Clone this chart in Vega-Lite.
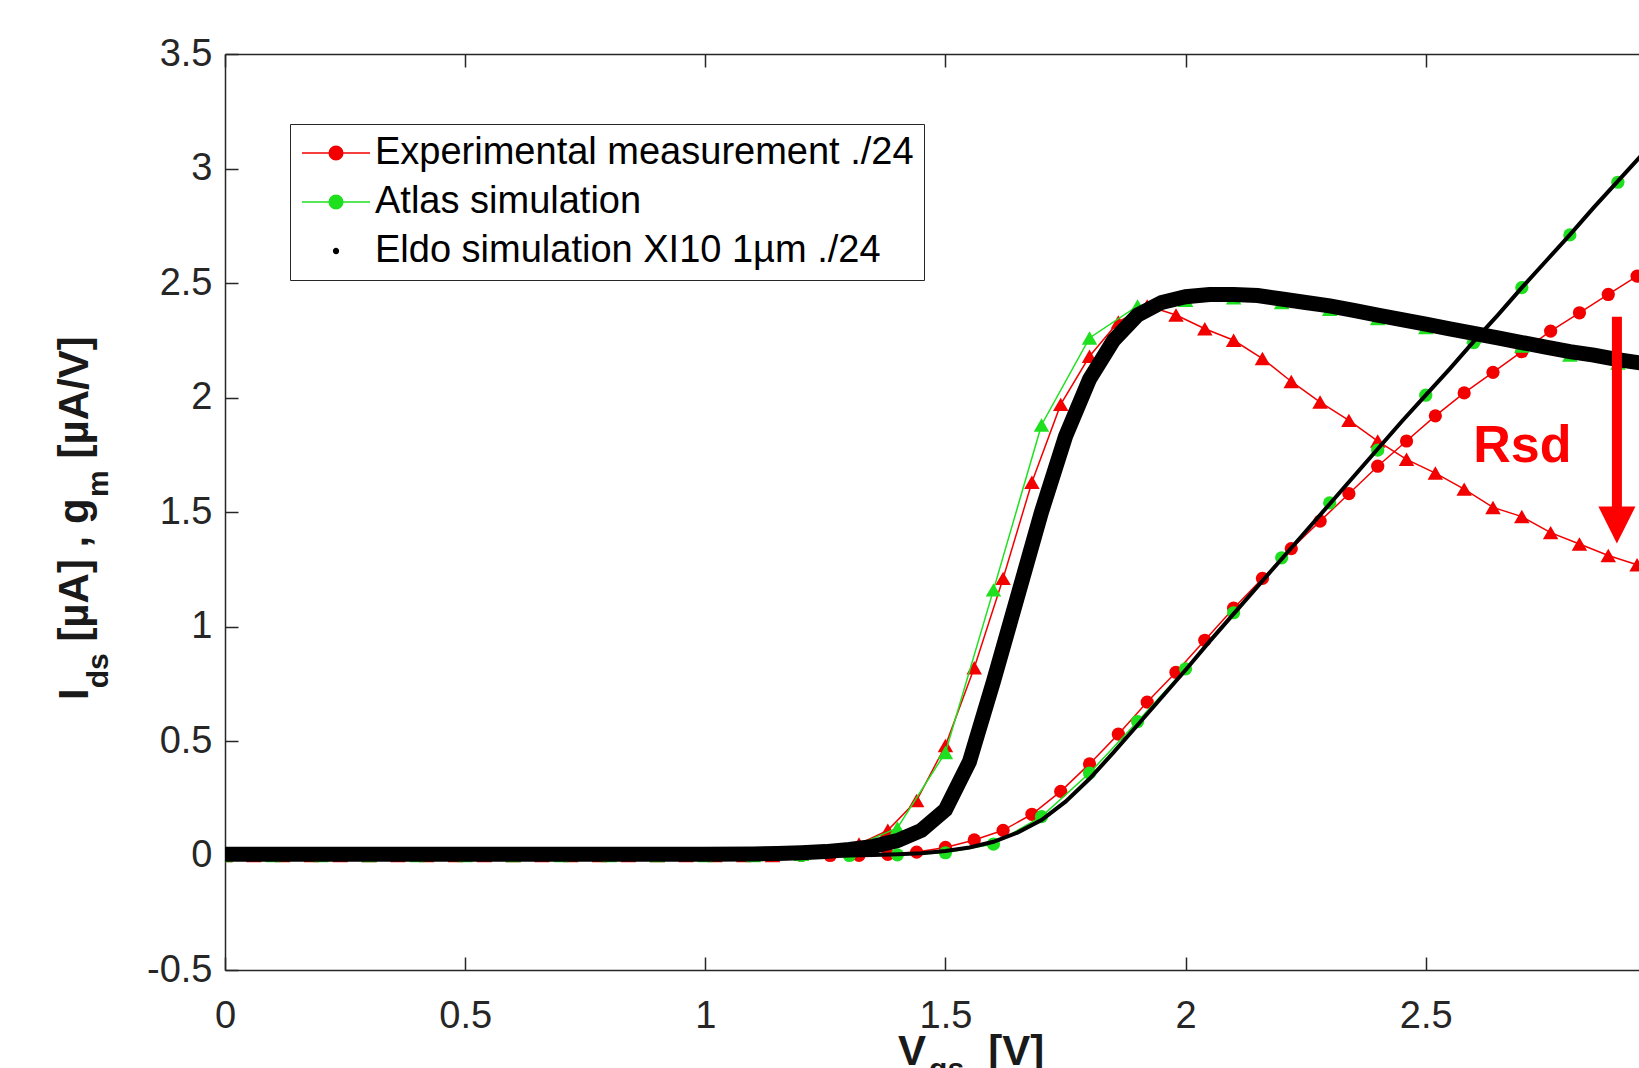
{
  "$schema": "https://vega.github.io/schema/vega-lite/v6.json",
  "width": 1414,
  "height": 916,
  "autosize": {"type": "none"},
  "padding": {"left": 225, "top": 54, "right": 0, "bottom": 98},
  "background": "#ffffff",
  "config": {
    "view": {"stroke": null},
    "axis": {
      "domainColor": "#262626", "domainWidth": 1.5,
      "tickColor": "#262626", "tickWidth": 1.5, "tickSize": -13,
      "labelColor": "#262626", "labelFont": "Liberation Sans", "labelFontSize": 38,
      "grid": false
    }
  },
  "datasets": {
    "curves": [
      {"series":"exp","kind":"ids","vgs":0,"value":0},{"series":"exp","kind":"ids","vgs":0.06,"value":0},{"series":"exp","kind":"ids","vgs":0.12,"value":0},{"series":"exp","kind":"ids","vgs":0.18,"value":0},{"series":"exp","kind":"ids","vgs":0.24,"value":0},{"series":"exp","kind":"ids","vgs":0.3,"value":0},{"series":"exp","kind":"ids","vgs":0.36,"value":0},{"series":"exp","kind":"ids","vgs":0.42,"value":0},{"series":"exp","kind":"ids","vgs":0.48,"value":0},{"series":"exp","kind":"ids","vgs":0.54,"value":0},{"series":"exp","kind":"ids","vgs":0.6,"value":0},{"series":"exp","kind":"ids","vgs":0.66,"value":0},{"series":"exp","kind":"ids","vgs":0.72,"value":0},{"series":"exp","kind":"ids","vgs":0.78,"value":0},{"series":"exp","kind":"ids","vgs":0.84,"value":0},{"series":"exp","kind":"ids","vgs":0.9,"value":0},{"series":"exp","kind":"ids","vgs":0.96,"value":0},{"series":"exp","kind":"ids","vgs":1.02,"value":0},{"series":"exp","kind":"ids","vgs":1.08,"value":0},{"series":"exp","kind":"ids","vgs":1.14,"value":0},{"series":"exp","kind":"ids","vgs":1.2,"value":0},{"series":"exp","kind":"ids","vgs":1.26,"value":0},{"series":"exp","kind":"ids","vgs":1.32,"value":0.001},{"series":"exp","kind":"ids","vgs":1.38,"value":0.005},{"series":"exp","kind":"ids","vgs":1.44,"value":0.015},{"series":"exp","kind":"ids","vgs":1.5,"value":0.035},{"series":"exp","kind":"ids","vgs":1.56,"value":0.068},{"series":"exp","kind":"ids","vgs":1.62,"value":0.11},{"series":"exp","kind":"ids","vgs":1.68,"value":0.18},{"series":"exp","kind":"ids","vgs":1.74,"value":0.28},{"series":"exp","kind":"ids","vgs":1.8,"value":0.4},{"series":"exp","kind":"ids","vgs":1.86,"value":0.53},{"series":"exp","kind":"ids","vgs":1.92,"value":0.67},{"series":"exp","kind":"ids","vgs":1.98,"value":0.8},{"series":"exp","kind":"ids","vgs":2.04,"value":0.94},{"series":"exp","kind":"ids","vgs":2.1,"value":1.08},{"series":"exp","kind":"ids","vgs":2.16,"value":1.21},{"series":"exp","kind":"ids","vgs":2.22,"value":1.34},{"series":"exp","kind":"ids","vgs":2.28,"value":1.46},{"series":"exp","kind":"ids","vgs":2.34,"value":1.58},{"series":"exp","kind":"ids","vgs":2.4,"value":1.7},{"series":"exp","kind":"ids","vgs":2.46,"value":1.81},{"series":"exp","kind":"ids","vgs":2.52,"value":1.92},{"series":"exp","kind":"ids","vgs":2.58,"value":2.02},{"series":"exp","kind":"ids","vgs":2.64,"value":2.11},{"series":"exp","kind":"ids","vgs":2.7,"value":2.2},{"series":"exp","kind":"ids","vgs":2.76,"value":2.29},{"series":"exp","kind":"ids","vgs":2.82,"value":2.37},{"series":"exp","kind":"ids","vgs":2.88,"value":2.45},{"series":"exp","kind":"ids","vgs":2.94,"value":2.53},
      {"series":"exp","kind":"gm","vgs":0,"value":0},{"series":"exp","kind":"gm","vgs":0.06,"value":0},{"series":"exp","kind":"gm","vgs":0.12,"value":0},{"series":"exp","kind":"gm","vgs":0.18,"value":0},{"series":"exp","kind":"gm","vgs":0.24,"value":0},{"series":"exp","kind":"gm","vgs":0.3,"value":0},{"series":"exp","kind":"gm","vgs":0.36,"value":0},{"series":"exp","kind":"gm","vgs":0.42,"value":0},{"series":"exp","kind":"gm","vgs":0.48,"value":0},{"series":"exp","kind":"gm","vgs":0.54,"value":0},{"series":"exp","kind":"gm","vgs":0.6,"value":0},{"series":"exp","kind":"gm","vgs":0.66,"value":0},{"series":"exp","kind":"gm","vgs":0.72,"value":0},{"series":"exp","kind":"gm","vgs":0.78,"value":0},{"series":"exp","kind":"gm","vgs":0.84,"value":0},{"series":"exp","kind":"gm","vgs":0.9,"value":0},{"series":"exp","kind":"gm","vgs":0.96,"value":0},{"series":"exp","kind":"gm","vgs":1.02,"value":0},{"series":"exp","kind":"gm","vgs":1.08,"value":0},{"series":"exp","kind":"gm","vgs":1.14,"value":0},{"series":"exp","kind":"gm","vgs":1.2,"value":0.005},{"series":"exp","kind":"gm","vgs":1.26,"value":0.02},{"series":"exp","kind":"gm","vgs":1.32,"value":0.05},{"series":"exp","kind":"gm","vgs":1.38,"value":0.11},{"series":"exp","kind":"gm","vgs":1.44,"value":0.24},{"series":"exp","kind":"gm","vgs":1.5,"value":0.48},{"series":"exp","kind":"gm","vgs":1.56,"value":0.82},{"series":"exp","kind":"gm","vgs":1.62,"value":1.21},{"series":"exp","kind":"gm","vgs":1.68,"value":1.63},{"series":"exp","kind":"gm","vgs":1.74,"value":1.97},{"series":"exp","kind":"gm","vgs":1.8,"value":2.18},{"series":"exp","kind":"gm","vgs":1.86,"value":2.33},{"series":"exp","kind":"gm","vgs":1.92,"value":2.4},{"series":"exp","kind":"gm","vgs":1.98,"value":2.36},{"series":"exp","kind":"gm","vgs":2.04,"value":2.3},{"series":"exp","kind":"gm","vgs":2.1,"value":2.25},{"series":"exp","kind":"gm","vgs":2.16,"value":2.17},{"series":"exp","kind":"gm","vgs":2.22,"value":2.07},{"series":"exp","kind":"gm","vgs":2.28,"value":1.98},{"series":"exp","kind":"gm","vgs":2.34,"value":1.9},{"series":"exp","kind":"gm","vgs":2.4,"value":1.81},{"series":"exp","kind":"gm","vgs":2.46,"value":1.73},{"series":"exp","kind":"gm","vgs":2.52,"value":1.67},{"series":"exp","kind":"gm","vgs":2.58,"value":1.6},{"series":"exp","kind":"gm","vgs":2.64,"value":1.52},{"series":"exp","kind":"gm","vgs":2.7,"value":1.48},{"series":"exp","kind":"gm","vgs":2.76,"value":1.41},{"series":"exp","kind":"gm","vgs":2.82,"value":1.36},{"series":"exp","kind":"gm","vgs":2.88,"value":1.31},{"series":"exp","kind":"gm","vgs":2.94,"value":1.27},
      {"series":"atlas","kind":"ids","vgs":0,"value":0},{"series":"atlas","kind":"ids","vgs":0.1,"value":0},{"series":"atlas","kind":"ids","vgs":0.2,"value":0},{"series":"atlas","kind":"ids","vgs":0.3,"value":0},{"series":"atlas","kind":"ids","vgs":0.4,"value":0},{"series":"atlas","kind":"ids","vgs":0.5,"value":0},{"series":"atlas","kind":"ids","vgs":0.6,"value":0},{"series":"atlas","kind":"ids","vgs":0.7,"value":0},{"series":"atlas","kind":"ids","vgs":0.8,"value":0},{"series":"atlas","kind":"ids","vgs":0.9,"value":0},{"series":"atlas","kind":"ids","vgs":1,"value":0},{"series":"atlas","kind":"ids","vgs":1.1,"value":0},{"series":"atlas","kind":"ids","vgs":1.2,"value":0},{"series":"atlas","kind":"ids","vgs":1.3,"value":0},{"series":"atlas","kind":"ids","vgs":1.4,"value":0.003},{"series":"atlas","kind":"ids","vgs":1.5,"value":0.012},{"series":"atlas","kind":"ids","vgs":1.6,"value":0.05},{"series":"atlas","kind":"ids","vgs":1.7,"value":0.17},{"series":"atlas","kind":"ids","vgs":1.8,"value":0.36},{"series":"atlas","kind":"ids","vgs":1.9,"value":0.585},{"series":"atlas","kind":"ids","vgs":2,"value":0.815},{"series":"atlas","kind":"ids","vgs":2.1,"value":1.06},{"series":"atlas","kind":"ids","vgs":2.2,"value":1.3},{"series":"atlas","kind":"ids","vgs":2.3,"value":1.54},{"series":"atlas","kind":"ids","vgs":2.4,"value":1.77},{"series":"atlas","kind":"ids","vgs":2.5,"value":2.01},{"series":"atlas","kind":"ids","vgs":2.6,"value":2.24},{"series":"atlas","kind":"ids","vgs":2.7,"value":2.48},{"series":"atlas","kind":"ids","vgs":2.8,"value":2.71},{"series":"atlas","kind":"ids","vgs":2.9,"value":2.94},
      {"series":"atlas","kind":"gm","vgs":0,"value":0},{"series":"atlas","kind":"gm","vgs":0.1,"value":0},{"series":"atlas","kind":"gm","vgs":0.2,"value":0},{"series":"atlas","kind":"gm","vgs":0.3,"value":0},{"series":"atlas","kind":"gm","vgs":0.4,"value":0},{"series":"atlas","kind":"gm","vgs":0.5,"value":0},{"series":"atlas","kind":"gm","vgs":0.6,"value":0},{"series":"atlas","kind":"gm","vgs":0.7,"value":0},{"series":"atlas","kind":"gm","vgs":0.8,"value":0},{"series":"atlas","kind":"gm","vgs":0.9,"value":0},{"series":"atlas","kind":"gm","vgs":1,"value":0},{"series":"atlas","kind":"gm","vgs":1.1,"value":0},{"series":"atlas","kind":"gm","vgs":1.2,"value":0.005},{"series":"atlas","kind":"gm","vgs":1.3,"value":0.03},{"series":"atlas","kind":"gm","vgs":1.4,"value":0.12},{"series":"atlas","kind":"gm","vgs":1.5,"value":0.45},{"series":"atlas","kind":"gm","vgs":1.6,"value":1.16},{"series":"atlas","kind":"gm","vgs":1.7,"value":1.88},{"series":"atlas","kind":"gm","vgs":1.8,"value":2.26},{"series":"atlas","kind":"gm","vgs":1.9,"value":2.4},{"series":"atlas","kind":"gm","vgs":2,"value":2.425},{"series":"atlas","kind":"gm","vgs":2.1,"value":2.435},{"series":"atlas","kind":"gm","vgs":2.2,"value":2.415},{"series":"atlas","kind":"gm","vgs":2.3,"value":2.385},{"series":"atlas","kind":"gm","vgs":2.4,"value":2.345},{"series":"atlas","kind":"gm","vgs":2.5,"value":2.305},{"series":"atlas","kind":"gm","vgs":2.6,"value":2.265},{"series":"atlas","kind":"gm","vgs":2.7,"value":2.225},{"series":"atlas","kind":"gm","vgs":2.8,"value":2.185},{"series":"atlas","kind":"gm","vgs":2.9,"value":2.15},
      {"series":"eldo","kind":"gm","vgs":0,"value":0.005},{"series":"eldo","kind":"gm","vgs":0.2,"value":0.005},{"series":"eldo","kind":"gm","vgs":0.4,"value":0.005},{"series":"eldo","kind":"gm","vgs":0.6,"value":0.005},{"series":"eldo","kind":"gm","vgs":0.8,"value":0.005},{"series":"eldo","kind":"gm","vgs":1,"value":0.006},{"series":"eldo","kind":"gm","vgs":1.1,"value":0.007},{"series":"eldo","kind":"gm","vgs":1.15,"value":0.009},{"series":"eldo","kind":"gm","vgs":1.2,"value":0.012},{"series":"eldo","kind":"gm","vgs":1.25,"value":0.017},{"series":"eldo","kind":"gm","vgs":1.3,"value":0.026},{"series":"eldo","kind":"gm","vgs":1.35,"value":0.04},{"series":"eldo","kind":"gm","vgs":1.4,"value":0.065},{"series":"eldo","kind":"gm","vgs":1.45,"value":0.11},{"series":"eldo","kind":"gm","vgs":1.5,"value":0.2},{"series":"eldo","kind":"gm","vgs":1.55,"value":0.41},{"series":"eldo","kind":"gm","vgs":1.6,"value":0.76},{"series":"eldo","kind":"gm","vgs":1.65,"value":1.13},{"series":"eldo","kind":"gm","vgs":1.7,"value":1.5},{"series":"eldo","kind":"gm","vgs":1.75,"value":1.83},{"series":"eldo","kind":"gm","vgs":1.8,"value":2.08},{"series":"eldo","kind":"gm","vgs":1.85,"value":2.25},{"series":"eldo","kind":"gm","vgs":1.9,"value":2.36},{"series":"eldo","kind":"gm","vgs":1.95,"value":2.415},{"series":"eldo","kind":"gm","vgs":2,"value":2.44},{"series":"eldo","kind":"gm","vgs":2.05,"value":2.45},{"series":"eldo","kind":"gm","vgs":2.1,"value":2.45},{"series":"eldo","kind":"gm","vgs":2.15,"value":2.445},{"series":"eldo","kind":"gm","vgs":2.2,"value":2.43},{"series":"eldo","kind":"gm","vgs":2.25,"value":2.415},{"series":"eldo","kind":"gm","vgs":2.3,"value":2.4},{"series":"eldo","kind":"gm","vgs":2.35,"value":2.38},{"series":"eldo","kind":"gm","vgs":2.4,"value":2.36},{"series":"eldo","kind":"gm","vgs":2.45,"value":2.34},{"series":"eldo","kind":"gm","vgs":2.5,"value":2.32},{"series":"eldo","kind":"gm","vgs":2.55,"value":2.3},{"series":"eldo","kind":"gm","vgs":2.6,"value":2.28},{"series":"eldo","kind":"gm","vgs":2.65,"value":2.26},{"series":"eldo","kind":"gm","vgs":2.7,"value":2.24},{"series":"eldo","kind":"gm","vgs":2.75,"value":2.22},{"series":"eldo","kind":"gm","vgs":2.8,"value":2.2},{"series":"eldo","kind":"gm","vgs":2.85,"value":2.185},{"series":"eldo","kind":"gm","vgs":2.9,"value":2.165},{"series":"eldo","kind":"gm","vgs":2.95,"value":2.15},
      {"series":"eldo","kind":"ids","vgs":0,"value":0},{"series":"eldo","kind":"ids","vgs":0.5,"value":0},{"series":"eldo","kind":"ids","vgs":1,"value":0},{"series":"eldo","kind":"ids","vgs":1.2,"value":0},{"series":"eldo","kind":"ids","vgs":1.3,"value":0},{"series":"eldo","kind":"ids","vgs":1.35,"value":0.002},{"series":"eldo","kind":"ids","vgs":1.4,"value":0.005},{"series":"eldo","kind":"ids","vgs":1.45,"value":0.01},{"series":"eldo","kind":"ids","vgs":1.5,"value":0.02},{"series":"eldo","kind":"ids","vgs":1.55,"value":0.035},{"series":"eldo","kind":"ids","vgs":1.6,"value":0.06},{"series":"eldo","kind":"ids","vgs":1.65,"value":0.1},{"series":"eldo","kind":"ids","vgs":1.7,"value":0.155},{"series":"eldo","kind":"ids","vgs":1.75,"value":0.235},{"series":"eldo","kind":"ids","vgs":1.8,"value":0.335},{"series":"eldo","kind":"ids","vgs":1.85,"value":0.45},{"series":"eldo","kind":"ids","vgs":1.9,"value":0.57},{"series":"eldo","kind":"ids","vgs":1.95,"value":0.69},{"series":"eldo","kind":"ids","vgs":2,"value":0.81},{"series":"eldo","kind":"ids","vgs":2.05,"value":0.935},{"series":"eldo","kind":"ids","vgs":2.1,"value":1.055},{"series":"eldo","kind":"ids","vgs":2.15,"value":1.175},{"series":"eldo","kind":"ids","vgs":2.2,"value":1.295},{"series":"eldo","kind":"ids","vgs":2.25,"value":1.415},{"series":"eldo","kind":"ids","vgs":2.3,"value":1.535},{"series":"eldo","kind":"ids","vgs":2.35,"value":1.655},{"series":"eldo","kind":"ids","vgs":2.4,"value":1.775},{"series":"eldo","kind":"ids","vgs":2.45,"value":1.895},{"series":"eldo","kind":"ids","vgs":2.5,"value":2.01},{"series":"eldo","kind":"ids","vgs":2.55,"value":2.125},{"series":"eldo","kind":"ids","vgs":2.6,"value":2.245},{"series":"eldo","kind":"ids","vgs":2.65,"value":2.36},{"series":"eldo","kind":"ids","vgs":2.7,"value":2.48},{"series":"eldo","kind":"ids","vgs":2.75,"value":2.595},{"series":"eldo","kind":"ids","vgs":2.8,"value":2.71},{"series":"eldo","kind":"ids","vgs":2.85,"value":2.83},{"series":"eldo","kind":"ids","vgs":2.9,"value":2.945},{"series":"eldo","kind":"ids","vgs":2.95,"value":3.06}
    ],
    "names": [
      {"series": "Experimental measurement ./24"},
      {"series": "Atlas simulation"},
      {"series": "Eldo simulation XI10 1µm ./24"}
    ],
    "one": [{"anchor": 1}]
  },
  "resolve": {"axis": {"x": "independent"}},
  "layer": [
    {
      "layer": [
        {
          "data": {"name": "curves"},
          "transform": [{"filter": "datum.series === 'exp'"}],
          "mark": {"type": "line", "color": "#f20000", "strokeWidth": 1.5, "clip": true},
          "encoding": {
            "x": {"field": "vgs", "type": "quantitative", "scale": {"domain": [0, 2.944], "nice": false, "zero": false},
                  "axis": {"orient": "bottom", "values": [0, 0.5, 1, 1.5, 2, 2.5], "labelExpr": "'' + datum.value", "labelPadding": 40, "labelFlush": false, "title": null}},
            "y": {"field": "value", "type": "quantitative", "scale": {"domain": [-0.5, 3.5], "nice": false, "zero": false},
                  "axis": {"values": [-0.5, 0, 0.5, 1, 1.5, 2, 2.5, 3, 3.5], "labelExpr": "'' + datum.value", "labelPadding": 26, "labelFlush": false, "title": null}},
            "detail": {"field": "kind", "type": "nominal"}
          }
        },
        {
          "data": {"name": "curves"},
          "transform": [{"filter": "datum.series === 'exp' && datum.kind === 'ids'"}],
          "mark": {"type": "point", "shape": "circle", "filled": true, "color": "#f20000", "opacity": 1, "size": 175, "clip": true},
          "encoding": {"x": {"field": "vgs", "type": "quantitative"}, "y": {"field": "value", "type": "quantitative"}}
        },
        {
          "data": {"name": "curves"},
          "transform": [{"filter": "datum.series === 'exp' && datum.kind === 'gm'"}],
          "mark": {"type": "point", "shape": "triangle-up", "filled": true, "color": "#f20000", "opacity": 1, "size": 240, "clip": true},
          "encoding": {"x": {"field": "vgs", "type": "quantitative"}, "y": {"field": "value", "type": "quantitative"}}
        },
        {
          "data": {"name": "curves"},
          "transform": [{"filter": "datum.series === 'atlas'"}],
          "mark": {"type": "line", "color": "#1ee01e", "strokeWidth": 1.5, "clip": true},
          "encoding": {"x": {"field": "vgs", "type": "quantitative"}, "y": {"field": "value", "type": "quantitative"}, "detail": {"field": "kind", "type": "nominal"}}
        },
        {
          "data": {"name": "curves"},
          "transform": [{"filter": "datum.series === 'atlas' && datum.kind === 'ids'"}],
          "mark": {"type": "point", "shape": "circle", "filled": true, "color": "#1ee01e", "opacity": 1, "size": 175, "clip": true},
          "encoding": {"x": {"field": "vgs", "type": "quantitative"}, "y": {"field": "value", "type": "quantitative"}}
        },
        {
          "data": {"name": "curves"},
          "transform": [{"filter": "datum.series === 'atlas' && datum.kind === 'gm'"}],
          "mark": {"type": "point", "shape": "triangle-up", "filled": true, "color": "#1ee01e", "opacity": 1, "size": 240, "clip": true},
          "encoding": {"x": {"field": "vgs", "type": "quantitative"}, "y": {"field": "value", "type": "quantitative"}}
        },
        {
          "data": {"name": "curves"},
          "transform": [{"filter": "datum.series === 'eldo' && datum.kind === 'gm'"}],
          "mark": {"type": "line", "color": "#000000", "strokeWidth": 15, "clip": true},
          "encoding": {"x": {"field": "vgs", "type": "quantitative"}, "y": {"field": "value", "type": "quantitative"}}
        },
        {
          "data": {"name": "curves"},
          "transform": [{"filter": "datum.series === 'eldo' && datum.kind === 'ids'"}],
          "mark": {"type": "line", "color": "#000000", "strokeWidth": 4, "clip": true},
          "encoding": {"x": {"field": "vgs", "type": "quantitative"}, "y": {"field": "value", "type": "quantitative"}}
        },
        {
          "data": {"name": "one"},
          "mark": {"type": "rule", "color": "#ff0000", "strokeWidth": 10},
          "encoding": {"x": {"datum": 2.898}, "y": {"datum": 2.353}, "y2": {"datum": 1.52}}
        },
        {
          "data": {"name": "one"},
          "mark": {"type": "point", "shape": "M-1,-1L1,-1L0,1Z", "filled": true, "color": "#ff0000", "opacity": 1, "size": 1369, "strokeWidth": 0},
          "encoding": {"x": {"datum": 2.898}, "y": {"datum": 1.443}}
        },
        {
          "data": {"name": "one"},
          "mark": {"type": "text", "text": "Rsd", "font": "Liberation Sans", "fontWeight": "bold", "fontSize": 52, "color": "#ff0000", "align": "center", "baseline": "alphabetic"},
          "encoding": {"x": {"datum": 2.701}, "y": {"datum": 1.72}}
        },
        {
          "data": {"name": "one"},
          "mark": {"type": "text", "text": "I", "font": "Liberation Sans", "fontWeight": "bold", "fontSize": 42, "color": "#1a1a1a", "angle": 270, "align": "left", "baseline": "alphabetic"},
          "encoding": {"x": {"datum": -0.285}, "y": {"datum": 0.679}}
        },
        {
          "data": {"name": "one"},
          "mark": {"type": "text", "text": "ds", "font": "Liberation Sans", "fontWeight": "bold", "fontSize": 30, "color": "#1a1a1a", "angle": 270, "align": "left", "baseline": "alphabetic"},
          "encoding": {"x": {"datum": -0.2436}, "y": {"datum": 0.73}}
        },
        {
          "data": {"name": "one"},
          "mark": {"type": "text", "text": "[µA] , g", "font": "Liberation Sans", "fontWeight": "bold", "fontSize": 42, "color": "#1a1a1a", "angle": 270, "align": "left", "baseline": "alphabetic"},
          "encoding": {"x": {"datum": -0.285}, "y": {"datum": 0.934}}
        },
        {
          "data": {"name": "one"},
          "mark": {"type": "text", "text": "m", "font": "Liberation Sans", "fontWeight": "bold", "fontSize": 30, "color": "#1a1a1a", "angle": 270, "align": "left", "baseline": "alphabetic"},
          "encoding": {"x": {"datum": -0.2436}, "y": {"datum": 1.566}}
        },
        {
          "data": {"name": "one"},
          "mark": {"type": "text", "text": "[µA/V]", "font": "Liberation Sans", "fontWeight": "bold", "fontSize": 42, "color": "#1a1a1a", "angle": 270, "align": "left", "baseline": "alphabetic"},
          "encoding": {"x": {"datum": -0.285}, "y": {"datum": 1.734}}
        },
        {
          "data": {"name": "one"},
          "mark": {"type": "text", "text": "V", "font": "Liberation Sans", "fontWeight": "bold", "fontSize": 42, "color": "#1a1a1a", "align": "left", "baseline": "alphabetic"},
          "encoding": {"x": {"datum": 1.401}, "y": {"datum": -0.915}}
        },
        {
          "data": {"name": "one"},
          "mark": {"type": "text", "text": "gs", "font": "Liberation Sans", "fontWeight": "bold", "fontSize": 30, "color": "#1a1a1a", "align": "left", "baseline": "alphabetic"},
          "encoding": {"x": {"datum": 1.466}, "y": {"datum": -0.974}}
        },
        {
          "data": {"name": "one"},
          "mark": {"type": "text", "text": "[V]", "font": "Liberation Sans", "fontWeight": "bold", "fontSize": 42, "color": "#1a1a1a", "align": "left", "baseline": "alphabetic"},
          "encoding": {"x": {"datum": 1.589}, "y": {"datum": -0.915}}
        },
        {
          "data": {"name": "names"},
          "mark": {"type": "point", "filled": true, "opacity": 0, "size": 1156},
          "encoding": {
            "fill": {"field": "series", "type": "nominal",
              "scale": {"domain": ["Experimental measurement ./24", "Atlas simulation", "Eldo simulation XI10 1µm ./24"], "range": ["#f20000", "#1ee01e", "#000000"]},
              "legend": {"orient": "none", "legendX": 65, "legendY": 70, "title": null, "labelFont": "Liberation Sans", "labelFontSize": 38, "labelColor": "#000000", "labelLimit": 2000, "labelOffset": 37, "rowPadding": 11, "padding": 10, "symbolSize": 1156, "symbolStrokeWidth": 1.5, "symbolOpacity": 1, "strokeColor": "#262626", "fillColor": "#ffffff"}},
            "stroke": {"field": "series", "type": "nominal",
              "scale": {"domain": ["Experimental measurement ./24", "Atlas simulation", "Eldo simulation XI10 1µm ./24"], "range": ["#f20000", "#1ee01e", "#000000"]},
              "legend": {"orient": "none", "legendX": 65, "legendY": 70, "title": null, "labelFont": "Liberation Sans", "labelFontSize": 38, "labelColor": "#000000", "labelLimit": 2000, "labelOffset": 37, "rowPadding": 11, "padding": 10, "symbolSize": 1156, "symbolStrokeWidth": 1.5, "symbolOpacity": 1, "strokeColor": "#262626", "fillColor": "#ffffff"}},
            "shape": {"field": "series", "type": "nominal",
              "scale": {"domain": ["Experimental measurement ./24", "Atlas simulation", "Eldo simulation XI10 1µm ./24"],
                        "range": ["M-1,0H3M0.6,0A0.4,0.4 0 1,0 1.4,0A0.4,0.4 0 1,0 0.6,0", "M-1,0H3M0.6,0A0.4,0.4 0 1,0 1.4,0A0.4,0.4 0 1,0 0.6,0", "M0.86,0A0.14,0.14 0 1,0 1.14,0A0.14,0.14 0 1,0 0.86,0"]},
              "legend": {"orient": "none", "legendX": 65, "legendY": 70, "title": null, "labelFont": "Liberation Sans", "labelFontSize": 38, "labelColor": "#000000", "labelLimit": 2000, "labelOffset": 37, "rowPadding": 11, "padding": 10, "symbolSize": 1156, "symbolStrokeWidth": 1.5, "symbolOpacity": 1, "strokeColor": "#262626", "fillColor": "#ffffff"}}
          }
        }
      ]
    },
    {
      "data": {"values": [{"vgs": 0}]},
      "mark": {"type": "rule", "opacity": 0},
      "encoding": {
        "x": {"field": "vgs", "type": "quantitative", "scale": {"domain": [0, 2.944], "nice": false, "zero": false},
              "axis": {"orient": "top", "labels": false, "values": [0, 0.5, 1, 1.5, 2, 2.5], "title": null}}
      }
    }
  ]
}
